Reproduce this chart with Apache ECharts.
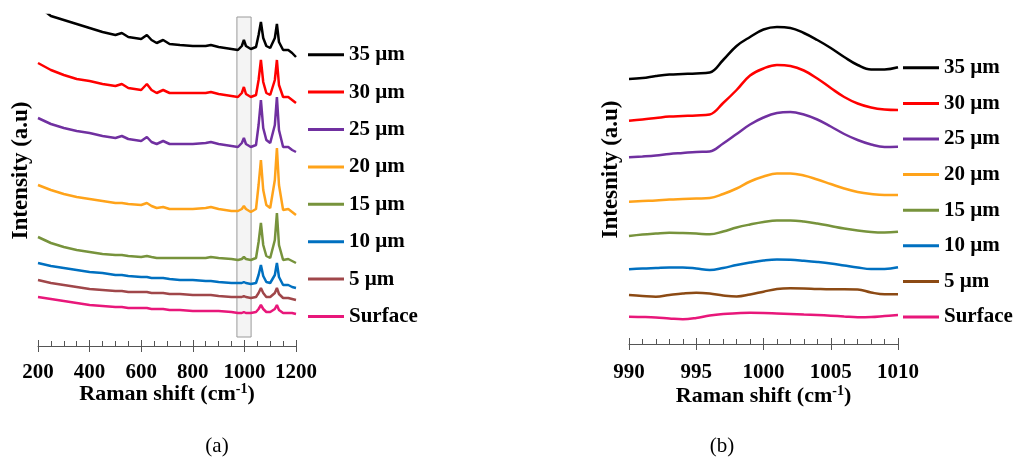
<!DOCTYPE html>
<html>
<head>
<meta charset="utf-8">
<script src="https://cdn.jsdelivr.net/npm/echarts@6/dist/echarts.min.js"></script>
<style>html,body{margin:0;padding:0;background:#fff}#c{width:1017px;height:457px}</style>
</head>
<body>
<div id="c"></div>
<script>
// ---------- DATA ----------
const names = ['35 µm','30 µm','25 µm','20 µm','15 µm','10 µm','5 µm','Surface'];
const colorsA = ['#000000','#ff0000','#7030a0','#ffa31a','#77933c','#0070c0','#a0474a','#e8177a'];
const colorsB = ['#000000','#ff0000','#7030a0','#ffa31a','#77933c','#0070c0','#8c4a14','#e8177a'];

// Panel (a): full spectra
const shiftA = [200,250,300,350,400,450,500,525,550,600,622,640,660,685,710,750,800,850,870,900,950,975,990,998,1006,1025,1045,1055,1064,1073,1085,1100,1118,1126,1134,1150,1170,1185,1200];
const a35 = [340,330,326,322,318,314,311,313,309,307,311,306,303,306,302,301,300,300,301,299,297,296,300,306,300,297,299,311,324,308,300,298,308,322,304,296,296,293,289];
const a30 = [283,276,271,267,265,262,260,262,258,256,262,256,253,256,253,253,253,253,254,252,250,249,253,259,252,249,251,266,286,264,253,251,266,286,261,249,249,246,243];
const a25 = [228,222,218,215,213,210,208,210,207,205,209,204,202,205,202,202,202,203,204,202,200,199,203,208,202,199,201,221,246,218,206,203,221,249,216,199,199,196,194];
const a20 = [161,156,152,149,147,145,143,143,142,141,143,140,138,139,137,137,137,138,139,137,135,135,137,140,137,134,137,161,186,156,141,138,166,198,161,136,137,134,131];
const a15 = [109,103,99,96,94,92,91,91,90,89,90,89,88,88,88,88,88,88,89,88,87,86,87,89,87,86,88,104,123,101,90,88,106,133,101,86,87,85,83];
const a10 = [83,80,78,76,74,73,71,71,70,69,69,68,68,68,67,66,66,65,65,64,63,63,63,64,63,62,63,71,81,70,64,63,71,83,69,61,61,59,58];
const a5  = [66,63,61,59,57,56,55,55,54,54,54,53,53,53,52,52,51,51,51,50,49,49,49,50,49,48,49,53,58,53,49,49,53,58,52,48,48,47,46];
const a0  = [49,47,45,43,41,40,39,39,38,38,38,37,37,37,36,36,35,35,35,35,34,33,33,34,33,33,34,37,41,37,34,34,37,41,36,33,33,33,32];
const seriesA = [a35,a30,a25,a20,a15,a10,a5,a0];
const boxX = [971, 1026];
const boxY = [9, 329];

// Panel (b): zoom on the 1000 cm-1 band
const shiftB = [990,991,992,993,994,995,996,997,998,999,1000,1001,1002,1003,1004,1005,1006,1007,1008,1009,1010];
const b35 = [265,266,268,269.5,270,270.5,271.5,284,298,307,314.5,317,316,311,304,296,287,279,274.5,274.5,276.7];
const b30 = [223.3,224.5,226,227.5,228,228.5,229.5,241,254,268.5,275.5,279,278,273.5,265.5,256,247,240.5,236.5,234.5,234];
const b25 = [186.7,187.5,188.5,190,191,192,192.5,200.5,210,219.5,226.5,231,232,229.5,224.5,217.5,210,204,199.5,197,197.3];
const b20 = [142.3,143,143.5,144.5,145,145.5,146,150,155.5,162.5,167.5,170.5,170.5,168.5,164.5,160,155.5,152,150,149,149];
const b15 = [108,109.5,110.5,111.3,111,110.5,109.7,112.5,116.5,119.5,122,123.5,123.5,122.5,120.5,118,115.5,113.5,112,111.5,112.3];
const b10 = [74.7,75.5,76,76.5,76.5,75.5,74,76,79,81.5,83.5,84.5,84.2,83.2,82,80.5,78.5,76.5,75,75,76.7];
const b5  = [49,48,47.3,49,50.5,51.3,50.5,48.5,47.5,49.5,52.3,55,55.7,55.5,55,54.7,54.7,54.5,51.5,49.7,49.7];
const b0  = [27.3,27,26.5,25.5,24.7,26,28.5,30,30.7,31.2,31,30.5,30,29.5,29,28.3,27.5,26.8,27,28,29];
const seriesB = [b35,b30,b25,b20,b15,b10,b5,b0];

const ticksA = {min:200, max:1200, interval:200};
const ticksB = {min:990, max:1010, interval:5};

// ---------- CHART ----------
const FF = 'Liberation Serif';
const chart = echarts.init(document.getElementById('c'));
const pair = (xs, ys) => xs.map((x, i) => [x, ys[i]]);

const nameRich = {
  b: {fontFamily: FF, fontWeight: 'bold', fontSize: 22, color: '#000', lineHeight: 24},
  s: {fontFamily: FF, fontWeight: 'bold', fontSize: 14, color: '#000', verticalAlign: 'top', lineHeight: 14}
};

function mainX(grid, t, minorSplit, margin, gap) {
  return {
    type: 'value', gridIndex: grid, min: t.min, max: t.max, interval: t.interval,
    axisLine: {show: true, lineStyle: {color: '#555', width: 1}},
    axisTick: {show: true, inside: true, length: 6, lineStyle: {color: '#555'}},
    minorTick: {show: true, splitNumber: minorSplit, length: 5, lineStyle: {color: '#555'}},
    splitLine: {show: false},
    axisLabel: {margin: margin, fontFamily: FF, fontWeight: 'bold', fontSize: 21, color: '#000',
                formatter: v => String(v)},
    name: '{b|Raman shift (cm}{s|-1}{b|)}', nameLocation: 'middle', nameGap: gap,
    nameMoveOverlap: false,
    nameTextStyle: {rich: nameRich}
  };
}
function overX(grid, t) {
  return {
    type: 'value', gridIndex: grid, min: t.min, max: t.max, interval: t.interval, position: 'bottom',
    axisLine: {show: false}, axisLabel: {show: false}, splitLine: {show: false},
    axisTick: {show: true, inside: false, length: 6, lineStyle: {color: '#555'}}
  };
}
function yAx(grid, max, name, gap) {
  return {
    type: 'value', gridIndex: grid, min: 0, max: max,
    axisLine: {show: false}, axisTick: {show: false}, axisLabel: {show: false}, splitLine: {show: false},
    name: name, nameLocation: 'middle', nameRotate: 90, nameGap: gap,
    nameTextStyle: {fontFamily: FF, fontWeight: 'bold', fontSize: 23, color: '#000', padding: [0, 0, 0, 20]}
  };
}
function legend(left, top, spacing, colors) {
  return {
    orient: 'vertical', left: left, top: top, padding: 0, itemGap: 0,
    icon: 'rect', itemWidth: 36, itemHeight: 3, selectedMode: false,
    textStyle: {fontFamily: FF, fontWeight: 'bold', fontSize: 21, color: '#000', lineHeight: spacing},
    data: names.map((n, i) => ({name: n, itemStyle: {color: colors[i]}}))
  };
}

const series = [];
names.forEach((n, i) => {
  series.push({
    type: 'line', name: n, xAxisIndex: 0, yAxisIndex: 0, data: pair(shiftA, seriesA[i]),
    showSymbol: false, symbol: 'none', lineStyle: {color: colorsA[i], width: 2.5}, itemStyle: {color: colorsA[i]},
    z: 2, silent: true
  });
});
series.push({
  type: 'line', name: 'box', xAxisIndex: 0, yAxisIndex: 0, data: [], z: 10, silent: true,
  markArea: {
    silent: true,
    itemStyle: {color: 'rgba(238,238,238,0.62)', borderColor: '#9a9a9a', borderWidth: 1},
    data: [[{xAxis: boxX[0], yAxis: boxY[0]}, {xAxis: boxX[1], yAxis: boxY[1]}]]
  }
});
names.forEach((n, i) => {
  series.push({
    type: 'line', name: n, xAxisIndex: 2, yAxisIndex: 1, data: pair(shiftB, seriesB[i]),
    smooth: 0.4, showSymbol: false, symbol: 'none', lineStyle: {color: colorsB[i], width: 2.5}, itemStyle: {color: colorsB[i]},
    z: 2, silent: true
  });
});

chart.setOption({
  animation: false,
  backgroundColor: '#fff',
  grid: [
    {left: 38, top: 15, width: 258, height: 331},
    {left: 629, top: 15, width: 269, height: 329}
  ],
  xAxis: [mainX(0, ticksA, 4, 16, 36), overX(0, ticksA), mainX(1, ticksB, 5, 18, 40), overX(1, ticksB)],
  yAxis: [yAx(0, 331, 'Intensity (a.u)', 5), yAx(1, 329, 'Intesnity (a.u)', 6)],
  legend: [legend(308, 36, 37.4, colorsA), legend(903, 50, 35.6, colorsB)],
  title: [
    {text: '(a)', left: 217, top: 436, textAlign: 'center', padding: 0,
     textStyle: {fontFamily: FF, fontWeight: 'normal', fontSize: 21, color: '#000'}},
    {text: '(b)', left: 722, top: 436, textAlign: 'center', padding: 0,
     textStyle: {fontFamily: FF, fontWeight: 'normal', fontSize: 21, color: '#000'}}
  ],
  series: series
});
</script>
</body>
</html>
